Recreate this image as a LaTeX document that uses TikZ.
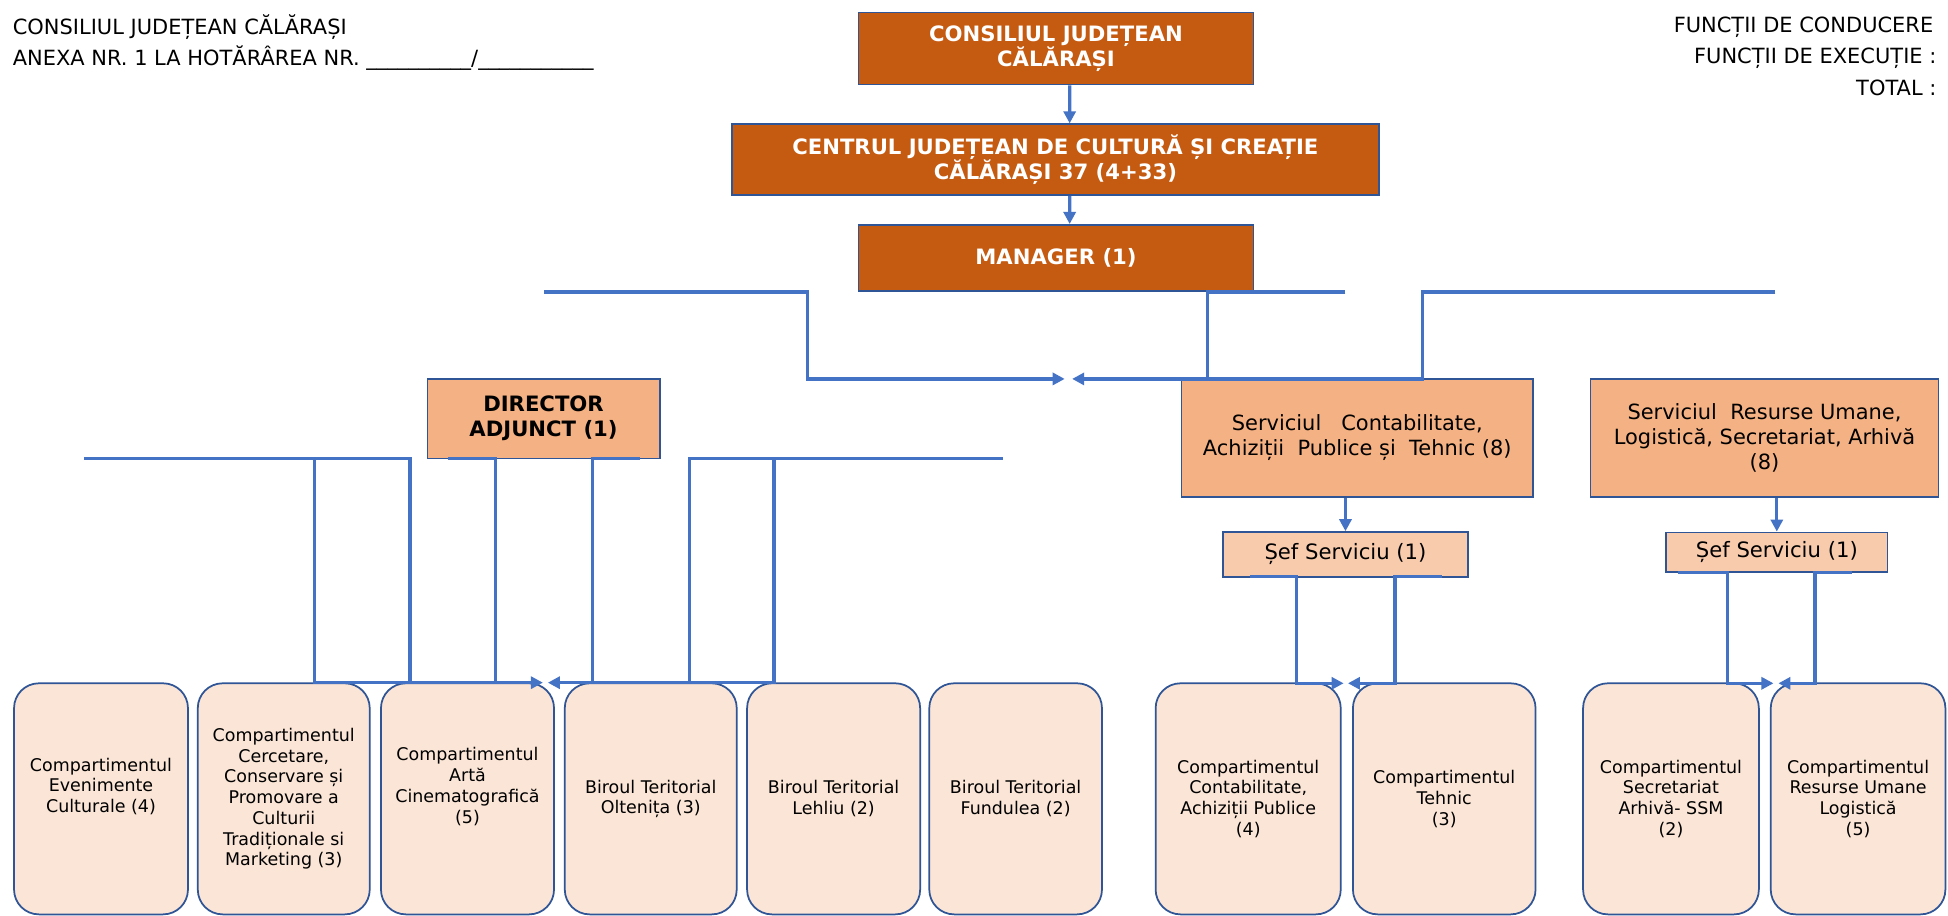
\documentclass[tikz,border=0pt]{standalone}
\usepackage{fontspec}
\setmainfont{DejaVu Sans}
\usetikzlibrary{arrows.meta,calc}
\definecolor{linec}{HTML}{4472C4}
\definecolor{bordc}{HTML}{2F5597}
\definecolor{darkc}{HTML}{C55A11}
\definecolor{midc}{HTML}{F4B183}
\definecolor{lightc}{HTML}{F8CBAD}
\definecolor{palec}{HTML}{FBE5D6}
\begin{document}
\begin{tikzpicture}[x=0.02cm,y=-0.02cm,
  hdr/.style={inner sep=0pt,font=\fontsize{9.6}{11.5}\selectfont},
  topbox/.style={draw=bordc,line width=0.8pt,fill=darkc,text=white,align=center,inner sep=0pt,
     font=\fontsize{9.7}{11.4}\selectfont\bfseries},
  dirbox/.style={draw=bordc,line width=0.8pt,fill=midc,text=black,align=center,inner sep=0pt,
     font=\fontsize{9.7}{11.4}\selectfont\bfseries},
  servbox/.style={draw=bordc,line width=0.8pt,fill=midc,text=black,align=center,inner sep=0pt,
     font=\fontsize{9.6}{11.4}\selectfont},
  sefbox/.style={draw=bordc,line width=0.8pt,fill=lightc,text=black,align=center,inner sep=0pt,
     font=\fontsize{9.7}{11.4}\selectfont},
  unitbox/.style={draw=bordc,line width=0.8pt,fill=palec,text=black,align=center,inner sep=0pt,
     rounded corners=0.4cm,minimum height=186*0.02cm,
     font=\fontsize{8}{9.5}\selectfont},
  link/.style={draw=linec,line width=1.5pt},
  arrowlink/.style={draw=linec,line width=1.5pt,-{Triangle[length=5.5pt,width=5.5pt]}}
]
\fill[white] (0,0) rectangle (1568,737);
\useasboundingbox (0,0) rectangle (1568,737);

% header texts
\node[hdr,anchor=west] (h1) at (10,22) {CONSILIUL JUDEȚEAN CĂLĂRAȘI};
\node[hdr,anchor=west] (h2) at (10,47) {ANEXA NR. 1 LA HOTĂRÂREA NR. \_\_\_\_\_\_\_\_\_\_/\_\_\_\_\_\_\_\_\_\_\_};
\node[hdr,anchor=east] (h3) at (1556.5,22) {FUNCȚII DE CONDUCERE};
\node[hdr,anchor=east] (h4) at (1559,47) {FUNCȚII DE EXECUȚIE :};
\node[hdr,anchor=east] (h5) at (1559,70.5) {TOTAL :};

% top boxes
\node[topbox,minimum width=318*0.02cm,minimum height=58*0.02cm] (cj) at (850,39) {CONSILIUL JUDEȚEAN\\CĂLĂRAȘI};
\node[topbox,minimum width=521*0.02cm,minimum height=57*0.02cm] (cen) at (849.5,128.5) {CENTRUL JUDEȚEAN DE CULTURĂ ȘI CREAȚIE\\CĂLĂRAȘI 37 (4+33)};
\node[topbox,minimum width=318*0.02cm,minimum height=53*0.02cm] (man) at (850,207.5) {MANAGER (1)};

% second level
\node[dirbox,minimum width=187*0.02cm,minimum height=64*0.02cm] (dir) at (437.5,337) {DIRECTOR\\ADJUNCT (1)};
\node[servbox,minimum width=283*0.02cm,minimum height=95*0.02cm] (sc) at (1092.5,352.4) {Serviciul\ \ \ Contabilitate,\\Achiziții\ \ Publice și\ \ Tehnic (8)};
\node[servbox,minimum width=280*0.02cm,minimum height=95*0.02cm] (srh) at (1420.3,352.4) {Serviciul\ \ Resurse Umane,\\Logistică, Secretariat, Arhivă\\(8)};
\node[sefbox,minimum width=197*0.02cm,minimum height=36*0.02cm] (sef1) at (1083,446.3) {Șef Serviciu (1)};
\node[sefbox,minimum width=178*0.02cm,minimum height=32*0.02cm] (sef2) at (1430.2,444.6) {Șef Serviciu (1)};

% bottom units
\node[unitbox,minimum width=140*0.02cm] (b1) at (81.3,643) {Compartimentul\\Evenimente\\Culturale (4)\\\strut};
\node[unitbox,minimum width=138.4*0.02cm] (b2) at (228.4,643) {Compartimentul\\Cercetare,\\Conservare și\\Promovare a\\Culturii\\Tradiționale si\\Marketing (3)};
\node[unitbox,minimum width=139.3*0.02cm] (b3) at (376.3,643) {Compartimentul\\Artă\\Cinematografică\\(5)\\\strut};
\node[unitbox,minimum width=138.4*0.02cm] (b4) at (523.8,643) {Biroul Teritorial\\Oltenița (3)};
\node[unitbox,minimum width=139.3*0.02cm] (b5) at (671,643) {Biroul Teritorial\\Lehliu (2)};
\node[unitbox,minimum width=139*0.02cm] (b6) at (817.5,643) {Biroul Teritorial\\Fundulea (2)};
\node[unitbox,minimum width=149*0.02cm] (b7) at (1004.7,643) {Compartimentul\\Contabilitate,\\Achiziții Publice\\(4)};
\node[unitbox,minimum width=147*0.02cm] (b8) at (1162.5,643) {Compartimentul\\Tehnic\\(3)};
\node[unitbox,minimum width=141.5*0.02cm] (b9) at (1345,643) {Compartimentul\\Secretariat\\Arhivă- SSM\\(2)};
\node[unitbox,minimum width=140.6*0.02cm] (b10) at (1495.6,643) {Compartimentul\\Resurse Umane\\Logistică\\(5)};

% top arrows
\draw[arrowlink] ($(cj.south)+(11,0)$) -- ($(cen.north)+(11.5,0)$);
\draw[arrowlink] ($(cen.south)+(11.5,0)$) -- ($(man.north)+(11,0)$);

% manager connectors (free ended)
\coordinate (m1) at (438,235);
\coordinate (m2) at (857,305);
\coordinate (m3) at (863,305);
\coordinate (m4) at (1429,235);
\coordinate (m5) at (1083,235);
\coordinate (m6) at (972,305);
\draw[arrowlink] (m1) -- (650,235) -- (650,305) -- (m2);
\draw[arrowlink] (m4) -- (1145,235) -- (1145,305) -- (m3);
\draw[link] (m5) -- (972,235) -- (m6);

% director connectors
\coordinate (d1) at (68,369);
\coordinate (d2) at (222,369);
\coordinate (d3) at (361,369);
\coordinate (d4) at (515,369);
\coordinate (d5) at (807,369);
\coordinate (d6) at (672,369);
\coordinate (dl) at (437,549.5);
\coordinate (dr) at (441,549.5);
\draw[link] (d1) -- (330,369) -- (330,549.5);
\draw[arrowlink] (d2) -- (253,369) -- (253,549.5) -- (dl);
\draw[link] (d3) -- (399,369) -- (399,549.5);
\draw[link] (d4) -- (477,369) -- (477,549.5);
\draw[link] (d5) -- (555,369) -- (555,549.5);
\draw[arrowlink] (d6) -- (623,369) -- (623,549.5) -- (dr);

% service connectors
\draw[arrowlink] (sef1.north |- sc.south) -- (sef1.north);
\draw[arrowlink] (sef2.north |- srh.south) -- (sef2.north);
\coordinate (s1) at (1006,464.2);
\coordinate (s2) at (1161,464.2);
\coordinate (s1t) at (1081.5,550);
\coordinate (s2t) at (1085,550);
\draw[arrowlink] (s1) -- (1043.5,464.2) -- (1043.5,550) -- (s1t);
\draw[arrowlink] (s2) -- (1122.8,464.2) -- (1122.8,550) -- (s2t);
\coordinate (r1) at (1350.4,460.7);
\coordinate (r2) at (1490.6,460.7);
\coordinate (r1t) at (1427.5,550);
\coordinate (r2t) at (1431.5,550);
\draw[arrowlink] (r1) -- (1390.5,460.7) -- (1390.5,550) -- (r1t);
\draw[arrowlink] (r2) -- (1461,460.7) -- (1461,550) -- (r2t);
\end{tikzpicture}
\end{document}
